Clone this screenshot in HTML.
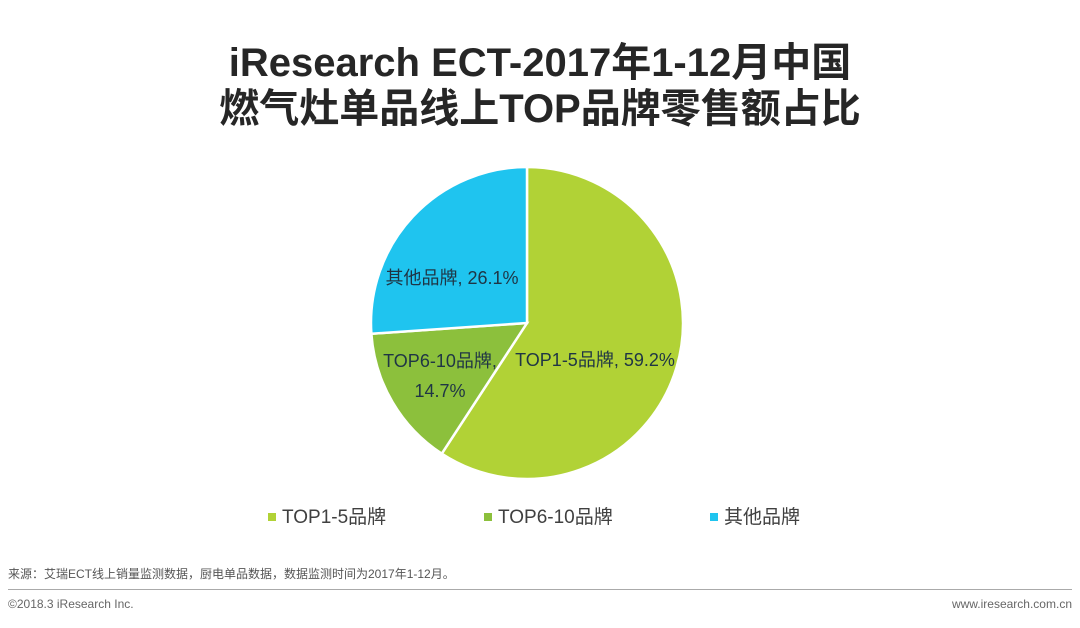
<!DOCTYPE html>
<html><head><meta charset="utf-8"><style>
body{margin:0;width:1080px;height:628px;background:#fff;font-family:"Liberation Sans","Noto Sans CJK SC",sans-serif;overflow:hidden;position:relative}
.t{position:absolute;left:0;width:1080px;text-align:center;font-weight:bold;font-size:40px;color:#262626;line-height:46px}
.lg{position:absolute;top:502px;font-size:19px;color:#404040}
.lg i{display:inline-block;width:8px;height:8px;margin-right:6px;vertical-align:2px}
</style></head><body>
<div class="t" style="top:40px">iResearch ECT-2017年1-12月中国<br>燃气灶单品线上TOP品牌零售额占比</div>
<svg id="pie" width="1080" height="628" style="position:absolute;left:0;top:0"></svg>
<div class="lg" style="left:268px"><i style="background:#b1d236"></i>TOP1-5品牌</div>
<div class="lg" style="left:484px"><i style="background:#8cc03c"></i>TOP6-10品牌</div>
<div class="lg" style="left:710px"><i style="background:#1fc4ef"></i>其他品牌</div>
<div style="position:absolute;left:8px;top:565px;font-size:12px;color:#555">来源：艾瑞ECT线上销量监测数据，厨电单品数据，数据监测时间为2017年1-12月。</div>
<div style="position:absolute;left:8px;top:589px;width:1064px;height:1px;background:#aaa"></div>
<div style="position:absolute;left:8px;top:597px;font-size:12px;color:#666">©2018.3 iResearch Inc.</div>
<div style="position:absolute;right:8px;top:597px;font-size:12px;color:#666">www.iresearch.com.cn</div>
<script>
const categories=["TOP1-5品牌","TOP6-10品牌","其他品牌"];
const values=[59.2,14.7,26.1];
const valueLabels=["59.2%","14.7%","26.1%"];
const colors=["#b1d236","#8cc03c","#1fc4ef"];
const svg=document.getElementById('pie');
const NS='http://www.w3.org/2000/svg';
const cx=527,cy=323,r=156;
const total=values.reduce((a,b)=>a+b,0);
function pt(a,rr){return [cx+rr*Math.sin(a),cy-rr*Math.cos(a)];}
let a0=0;
const labelPos=[[595,366],[440,370],[452,284]];
values.forEach((v,i)=>{
  const a1=a0+v/total*2*Math.PI;
  const p0=pt(a0,r),p1=pt(a1,r);
  const large=(a1-a0)>Math.PI?1:0;
  const path=document.createElementNS(NS,'path');
  path.setAttribute('d',`M${cx},${cy}L${p0[0]},${p0[1]}A${r},${r} 0 ${large} 1 ${p1[0]},${p1[1]}Z`);
  path.setAttribute('fill',colors[i]);path.setAttribute('stroke','#fff');path.setAttribute('stroke-width','2.5');
  
  
  svg.appendChild(path);
  a0=a1;
});
a0=0;
values.forEach((v,i)=>{
  a0+=v/total*2*Math.PI;
  const t=document.createElementNS(NS,'text');
  
  
  t.setAttribute('font-size','18');t.setAttribute('fill','#1f3545');t.setAttribute('text-anchor','middle');
  t.setAttribute('font-family','"Liberation Sans","Noto Sans CJK SC",sans-serif');
  const [x,y]=labelPos[i];
  if(i===1){
    const s1=document.createElementNS(NS,'tspan');s1.setAttribute('x',x);s1.setAttribute('y',y-3);s1.textContent=categories[i]+',';
    const s2=document.createElementNS(NS,'tspan');s2.setAttribute('x',x);s2.setAttribute('y',y+27);s2.textContent=valueLabels[i];
    t.appendChild(s1);t.appendChild(s2);
  } else {t.setAttribute('x',x);t.setAttribute('y',y);t.textContent=categories[i]+', '+valueLabels[i];}
  svg.appendChild(t);
});
</script>
</body></html>
